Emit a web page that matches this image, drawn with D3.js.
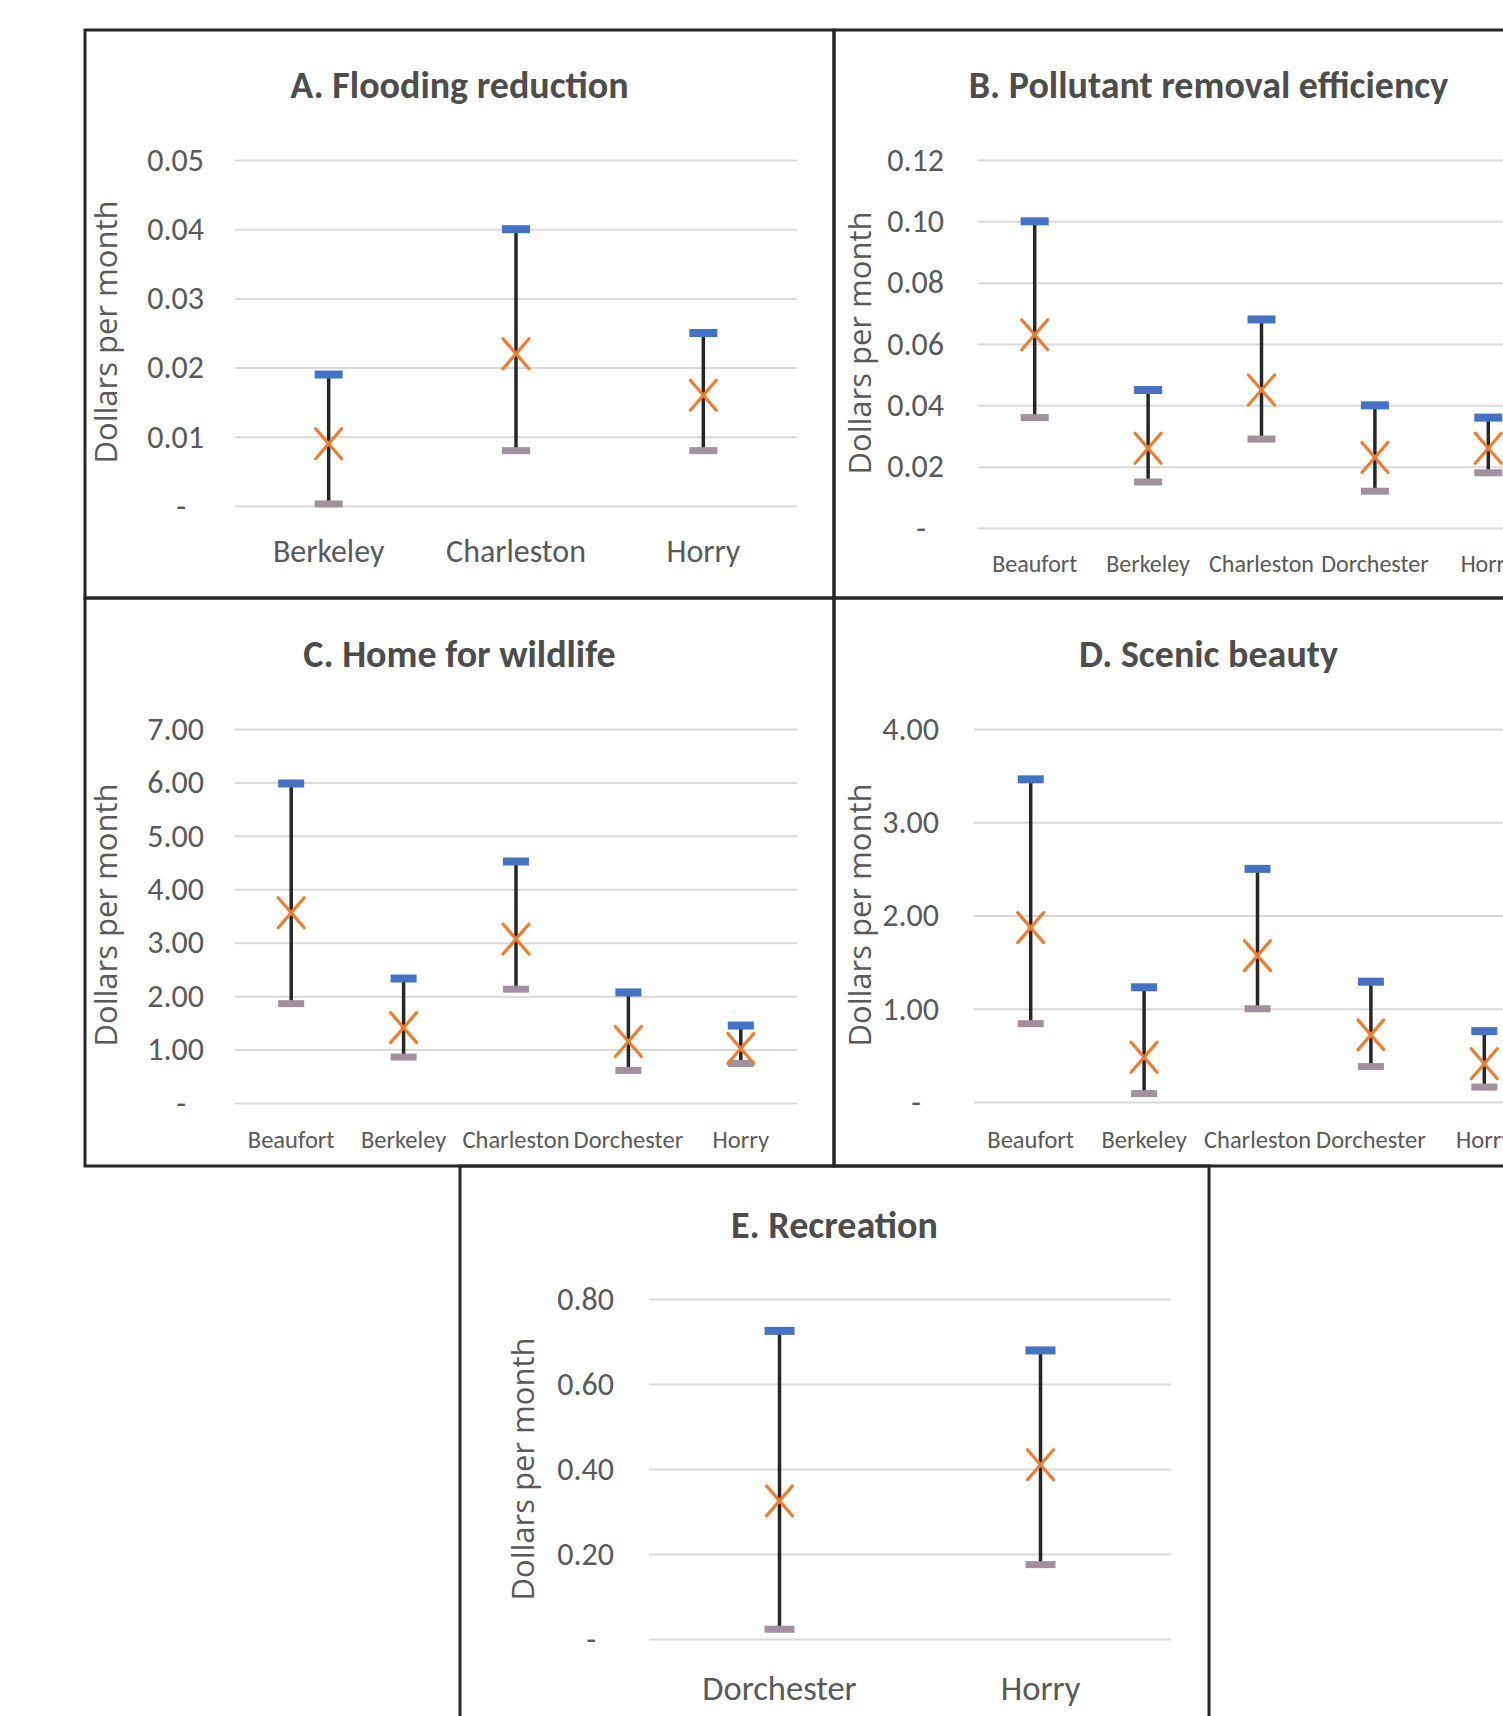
<!DOCTYPE html>
<html>
<head>
<meta charset="utf-8">
<script src="https://cdn.jsdelivr.net/npm/d3@7"></script>
<style>
  body { margin: 0; background: #fff; }
  svg { display: block; }
</style>
</head>
<body>
<script>
// canvas size
const W = 1503, H = 1716;

// ---- data ----
// A. Flooding reduction
const floodCats = ["Berkeley", "Charleston", "Horry"];
const floodHigh = [0.019, 0.040, 0.025];
const floodMean = [0.009, 0.022, 0.016];
const floodLow = [0.0003, 0.008, 0.008];
const floodTicks = [0, 0.01, 0.02, 0.03, 0.04, 0.05];

// B. Pollutant removal efficiency
const pollCats = ["Beaufort", "Berkeley", "Charleston", "Dorchester", "Horry"];
const pollHigh = [0.100, 0.045, 0.068, 0.040, 0.036];
const pollMean = [0.063, 0.026, 0.045, 0.023, 0.026];
const pollLow = [0.036, 0.015, 0.029, 0.012, 0.018];
const pollTicks = [0, 0.02, 0.04, 0.06, 0.08, 0.10, 0.12];

// C. Home for wildlife
const wildCats = ["Beaufort", "Berkeley", "Charleston", "Dorchester", "Horry"];
const wildHigh = [5.98, 2.33, 4.52, 2.07, 1.45];
const wildMean = [3.56, 1.41, 3.07, 1.15, 1.02];
const wildLow = [1.86, 0.86, 2.13, 0.61, 0.74];
const wildTicks = [0, 1, 2, 3, 4, 5, 6, 7];

// D. Scenic beauty
const sceneCats = ["Beaufort", "Berkeley", "Charleston", "Dorchester", "Horry"];
const sceneHigh = [3.46, 1.23, 2.50, 1.29, 0.76];
const sceneMean = [1.87, 0.48, 1.57, 0.72, 0.41];
const sceneLow = [0.84, 0.09, 1.00, 0.38, 0.16];
const sceneTicks = [0, 1, 2, 3, 4];

// E. Recreation
const recCats = ["Dorchester", "Horry"];
const recHigh = [0.725, 0.679];
const recMean = [0.325, 0.410];
const recLow = [0.023, 0.175];
const recTicks = [0, 0.2, 0.4, 0.6, 0.8];

// ---- layout (panel-relative) ----
const PW = 749, PH = 568;
const font = "Carlito, 'Liberation Sans Narrow', 'Noto Sans', sans-serif";
const titleFont = "Carlito, 'Liberation Sans Narrow', 'Noto Sans', sans-serif";
const axisFont = "'Open Sans', 'Noto Sans', sans-serif";

let svg = d3.select("body")
    .append("svg")
    .attr("width", W)
    .attr("height", H);

svg.append("rect").attr("width", W).attr("height", H).attr("fill", "#fff");

let panels = [
  {x0: 85, y0: 30, title: "A. Flooding reduction", cats: floodCats, high: floodHigh, mean: floodMean, low: floodLow, ticks: floodTicks,
   gx0: 150, gx1: 712, yTop: 130, yZero: 476, tickX: 119, titleY: 58.5, catY: 524.5, catSize: 32, yTitleX: 24, yTitleY: 302, capW: 28},
  {x0: 834, y0: 30, title: "B. Pollutant removal efficiency", cats: pollCats, high: pollHigh, mean: pollMean, low: pollLow, ticks: pollTicks,
   gx0: 144, gx1: 711, yTop: 130, yZero: 498, tickX: 110, titleY: 58.5, catY: 536.5, catSize: 24, yTitleX: 29, yTitleY: 313, capW: 28},
  {x0: 85, y0: 598, title: "C. Home for wildlife", cats: wildCats, high: wildHigh, mean: wildMean, low: wildLow, ticks: wildTicks,
   gx0: 150, gx1: 712, yTop: 131, yZero: 505, tickX: 119, titleY: 59.5, catY: 544.5, catSize: 24.5, yTitleX: 24, yTitleY: 317, capW: 26},
  {x0: 834, y0: 598, title: "D. Scenic beauty", cats: sceneCats, high: sceneHigh, mean: sceneMean, low: sceneLow, ticks: sceneTicks,
   gx0: 140, gx1: 707, yTop: 131, yZero: 504, tickX: 105, titleY: 59.5, catY: 544.5, catSize: 24.5, yTitleX: 29, yTitleY: 317, capW: 26},
  {x0: 460, y0: 1166, title: "E. Recreation", cats: recCats, high: recHigh, mean: recMean, low: recLow, ticks: recTicks,
   gx0: 189, gx1: 711, yTop: 133, yZero: 473, tickX: 154, titleY: 63, catY: 526, catSize: 34.5, yTitleX: 66, yTitleY: 303, capW: 30}
];

panels.forEach(drawPanel);

function drawPanel(p) {
  let g = svg.append("g").attr("transform", `translate(${p.x0}, ${p.y0})`);

  let y = d3.scaleLinear()
      .domain([0, d3.max(p.ticks)])
      .range([p.yZero, p.yTop]);
  let x = d3.scalePoint()
      .domain(p.cats)
      .range([p.gx0, p.gx1])
      .padding(0.5);

  // gridlines + tick labels
  let axis = g.append("g")
      .attr("transform", `translate(${p.gx0}, 0)`)
      .call(d3.axisLeft(y)
        .tickValues(p.ticks)
        .tickSize(-(p.gx1 - p.gx0))
        .tickPadding(p.gx0 - p.tickX)
        .tickFormat(function(d) { return d === 0 ? "-" : d3.format(".2f")(d); }));
  axis.select(".domain").remove();
  axis.selectAll(".tick line").attr("stroke", "#d9d9d9").attr("stroke-width", 2);
  axis.selectAll(".tick text")
      .attr("fill", "#595959")
      .style("font-family", font)
      .style("font-size", "32px")
      .attr("dx", function(d) { return d === 0 ? -18 : 0; });

  // title
  g.append("text")
      .attr("x", PW / 2)
      .attr("y", p.titleY)
      .attr("text-anchor", "middle")
      .attr("dominant-baseline", "middle")
      .attr("fill", "#4d4d4d")
      .style("font-family", titleFont)
      .style("font-weight", "bold")
      .style("font-size", "38px")
      .text(p.title);

  // y axis title
  g.append("text")
      .attr("transform", `translate(${p.yTitleX}, ${p.yTitleY}) rotate(-90)`)
      .attr("text-anchor", "middle")
      .attr("dominant-baseline", "middle")
      .attr("fill", "#595959")
      .style("font-family", axisFont)
      .style("font-size", "31px")
      .text("Dollars per month");

  // category labels
  g.selectAll(".cat")
      .data(p.cats)
      .enter()
      .append("text")
      .attr("class", "cat")
      .attr("x", function(d) { return x(d); })
      .attr("y", p.catY)
      .attr("text-anchor", "middle")
      .attr("dominant-baseline", "middle")
      .attr("fill", "#595959")
      .style("font-family", font)
      .style("font-size", p.catSize + "px")
      .text(function(d) { return d; });

  let rows = p.cats.map(function(c, i) {
    return {cat: c, high: p.high[i], mean: p.mean[i], low: p.low[i]};
  });

  // high-low line
  g.selectAll(".hl")
      .data(rows)
      .enter()
      .append("line")
      .attr("x1", function(d) { return x(d.cat); })
      .attr("x2", function(d) { return x(d.cat); })
      .attr("y1", function(d) { return y(d.high); })
      .attr("y2", function(d) { return y(d.low); })
      .attr("stroke", "#262626")
      .attr("stroke-width", 3.5);

  // low cap
  g.selectAll(".lowcap")
      .data(rows)
      .enter()
      .append("rect")
      .attr("x", function(d) { return x(d.cat) - p.capW / 2; })
      .attr("y", function(d) { return y(d.low) - 3.5; })
      .attr("width", p.capW)
      .attr("height", 7)
      .attr("fill", "#a0919c");

  // high cap
  g.selectAll(".highcap")
      .data(rows)
      .enter()
      .append("rect")
      .attr("x", function(d) { return x(d.cat) - p.capW / 2; })
      .attr("y", function(d) { return y(d.high) - 4; })
      .attr("width", p.capW)
      .attr("height", 8)
      .attr("fill", "#4472c4");

  // mean marker (x)
  let m = g.selectAll(".mean")
      .data(rows)
      .enter()
      .append("g")
      .attr("transform", function(d) { return `translate(${x(d.cat)}, ${y(d.mean)})`; });
  m.append("line").attr("x1", -13).attr("y1", -15).attr("x2", 13).attr("y2", 15);
  m.append("line").attr("x1", -13).attr("y1", 15).attr("x2", 13).attr("y2", -15);
  m.selectAll("line").attr("stroke", "#ed7d31").attr("stroke-width", 3.2).attr("stroke-linecap", "round");

  // panel border
  g.append("rect")
      .attr("width", PW)
      .attr("height", PH)
      .attr("fill", "none")
      .attr("stroke", "#262626")
      .attr("stroke-width", 3);
}
</script>
</body>
</html>
